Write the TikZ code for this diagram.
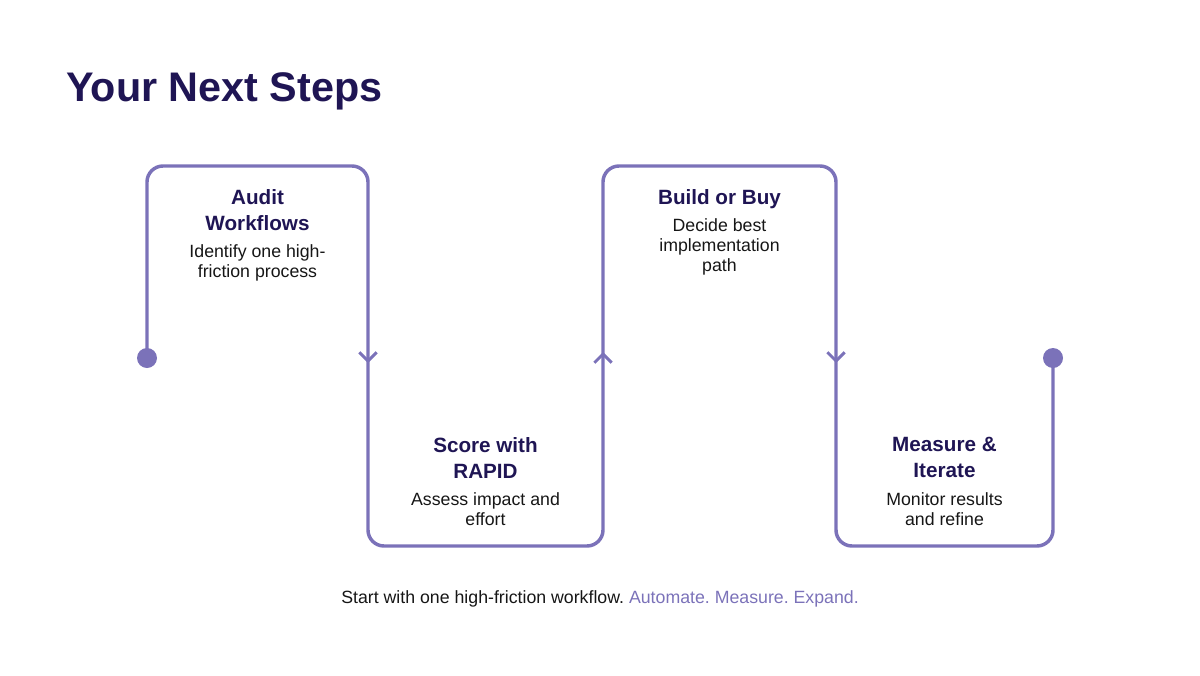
\documentclass[tikz,border=0pt]{standalone}
\usepackage{fontspec}
\setmainfont{Liberation Sans}
\usepackage{xcolor}
\usetikzlibrary{positioning, arrows.meta}
\frenchspacing

\definecolor{navy}{HTML}{1F1554}
\definecolor{flowline}{HTML}{7B72B9}
\definecolor{ink}{HTML}{161616}

\begin{document}
\begin{tikzpicture}[
    x=0.75pt, y=-0.75pt,
    node distance=7.5pt,
    head/.style={inner sep=0pt, align=center, text=navy,
                 font=\bfseries\fontsize{15.5}{19.5}\selectfont,
                 execute at end node={\vphantom{y}}},
    desc/.style={inner sep=0pt, align=center, text=ink,
                 font=\fontsize{13.3}{15}\selectfont,
                 execute at begin node={\vphantom{Ad}}},
    flow/.style={draw=flowline, line width=2.6pt, rounded corners=12pt},
    chev/.style={-{Straight Barb[length=6.5pt, width=13pt]}, draw=flowline, line width=2.2pt},
    dot/.style={fill=flowline}
]
\useasboundingbox (0,0) rectangle (1200,675);

\node[anchor=base west, inner sep=0pt, text=navy,
      font=\bfseries\fontsize{31}{36}\selectfont] (title) at (66,101) {Your Next Steps};

% the path
\coordinate (startpt) at (147,358);
\coordinate (endpt) at (1053,358);
\draw[flow] (startpt) -- (147,166) -- (368,166) -- (368,546) -- (603,546)
    -- (603,166) -- (836,166) -- (836,546) -- (1053,546) -- (endpt);
\fill[dot] (startpt) circle (10);
\fill[dot] (endpt) circle (10);

\draw[chev] (368,340) -- (368,363);
\draw[chev] (603,376) -- (603,352);
\draw[chev] (836,340) -- (836,363);

% steps
\node[head, anchor=north] (audit) at (257.5,189) {Audit\\Workflows};
\node[desc, below=of audit] (auditd) {Identify one high-\\friction process};

\node[head, anchor=north] (score) at (485.5,437) {Score with\\RAPID};
\node[desc, below=of score] (scored) {Assess impact and\\effort};

\node[head, anchor=north] (build) at (719.5,189) {Build or Buy};
\node[desc, below=of build] (buildd) {Decide best\\implementation\\path};

\node[head, anchor=north] (measure) at (944.5,437) {Measure \&\\Iterate};
\node[desc, below=of measure] (measured) {Monitor results\\and refine};

\node[anchor=base, inner sep=0pt, text=ink, font=\fontsize{13.3}{15}\selectfont] (footer) at (600,603)
    {Start with one high-friction workflow. \textcolor{flowline}{Automate. Measure. Expand.}};
\end{tikzpicture}
\end{document}
